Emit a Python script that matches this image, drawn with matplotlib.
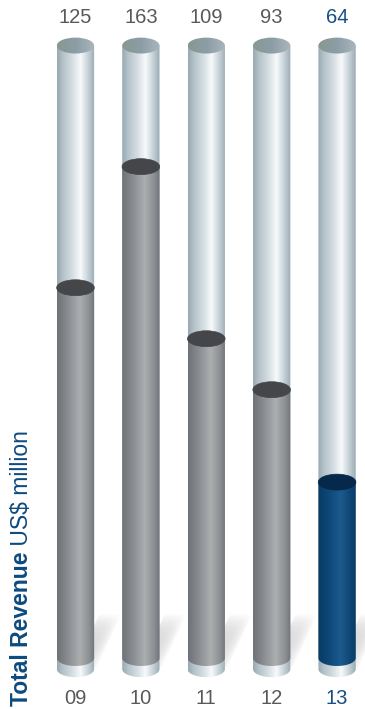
import numpy as np
import matplotlib.pyplot as plt
from matplotlib.patches import Ellipse, PathPatch, Polygon
from matplotlib.path import Path
from matplotlib.colors import LinearSegmentedColormap

# data
years = ['09', '10', '11', '12', '13']
revenue = [125, 163, 109, 93, 64]
current = 4  # highlighted year

plt.rcParams['font.family'] = ['Liberation Sans', 'DejaVu Sans']

# colours
tube_cm = LinearSegmentedColormap.from_list('tube', [
    (0.0, '#98a9b2'), (0.15, '#b4c2c9'), (0.45, '#dbe3e7'),
    (0.62, '#f8fafb'), (0.82, '#c6d2d8'), (1.0, '#9aabb4')])
tube_top_cm = LinearSegmentedColormap.from_list('tubetop', ['#879891', '#8d9da6', '#a9b6bd'])
gray_cm = LinearSegmentedColormap.from_list('gray', [
    (0.0, '#6e7276'), (0.3, '#8b8f93'), (0.6, '#acaeb0'),
    (0.85, '#8c9094'), (1.0, '#707478')])
blue_cm = LinearSegmentedColormap.from_list('blue', [
    (0.0, '#073a63'), (0.35, '#104b7c'), (0.6, '#1d5b8e'),
    (0.85, '#0f4676'), (1.0, '#083c66')])
gray_top = '#444649'
blue_top = '#06284a'
txt_gray = '#58595b'
txt_blue = '#154f84'

fig = plt.figure(figsize=(3.65, 7.09), dpi=100)
ax = fig.add_axes([0, 0, 1, 1])
ax.set_axis_off()

# cylinder geometry (value units / category units)
w = 0.57
eh = 5.0
tube_top = 201
tube_base = 5.3
fill_base = 8.8


def body_path(xc, yb, yt):
    t = np.linspace(np.pi, 2 * np.pi, 60)
    bx = xc + w / 2 * np.cos(t)
    by = yb + eh / 2 * np.sin(t)
    verts = [(xc - w / 2, yt)] + list(zip(bx, by)) + [(xc + w / 2, yt), (xc - w / 2, yt)]
    return Path(verts)


def gradient(x0, x1, y0, y1, cmap, clip, z):
    g = np.linspace(0, 1, 128).reshape(1, -1)
    im = ax.imshow(g, cmap=cmap, extent=(x0, x1, y0, y1), aspect='auto',
                   origin='lower', interpolation='bilinear', zorder=z)
    im.set_clip_path(clip)


def cylinder(xc, yb, yt, cmap, top, z):
    clip = PathPatch(body_path(xc, yb, yt), transform=ax.transData)
    gradient(xc - w / 2, xc + w / 2, yb - eh, yt, cmap, clip, z)
    if isinstance(top, str):
        ax.add_patch(Ellipse((xc, yt), w * 1.01, eh, facecolor=top,
                             edgecolor=top, lw=0.5, zorder=z + 0.1))
    else:
        e = Ellipse((xc, yt), w, eh, transform=ax.transData)
        gradient(xc - w / 2, xc + w / 2, yt - eh, yt + eh, top, e, z + 0.1)


def shadow(xc):
    # slanted band cast to the back right of each cylinder
    y0, y1 = 6.0, 22.9
    lb, rb = -0.008, 0.329
    lt, rt = 0.375, 0.711
    poly = Polygon([(xc + lb, y0), (xc + rb, y0), (xc + rt, y1), (xc + lt, y1)],
                   closed=True, transform=ax.transData)
    nx, ny = 80, 40
    xs = np.linspace(xc + lb, xc + rt, nx)
    ys = np.linspace(y0, y1, ny)
    X, Y = np.meshgrid(xs, ys)
    s = (Y - y0) / (y1 - y0)
    left = xc + lb + s * (lt - lb)
    u = np.clip((X - left) / (rb - lb), 0, 1)
    alpha = 0.5 * (1 - u ** 3) * (1 - s ** 3) * (0.55 + 0.45 * s)
    img = np.zeros((ny, nx, 4))
    img[..., :3] = 0.6
    img[..., 3] = alpha
    im = ax.imshow(img, extent=(xc + lb, xc + rt, y0, y1), aspect='auto',
                   origin='lower', interpolation='bilinear', zorder=1)
    im.set_clip_path(poly)


for i, v in enumerate(revenue):
    shadow(i)
    cylinder(i, tube_base, tube_top, tube_cm, tube_top_cm, 2)
    if i == current:
        cylinder(i, fill_base, v, blue_cm, blue_top, 3)
    else:
        cylinder(i, fill_base, v, gray_cm, gray_top, 3)
    col = txt_blue if i == current else txt_gray
    ax.text(i, 209.9, str(v), ha='center', va='center', fontsize=14.5, color=col)
    ax.text(i, -3.8, years[i], ha='center', va='center', fontsize=14.5, color=col)

# axis title, bold part + regular part
t1 = ax.text(-0.82, -6.4, 'Total Revenue', rotation=90, ha='center', va='bottom',
             fontsize=16.5, fontweight='bold', color='#0d4a7e')
ax.annotate(' US$ million', xy=(0.5, 1), xycoords=t1, rotation=90,
            ha='center', va='bottom', fontsize=16.5, color='#0d4a7e')

ax.set_xlim(-1.154, 4.427)
ax.set_ylim(-7.2, 215.3)

fig.savefig('out.png', dpi=100)
